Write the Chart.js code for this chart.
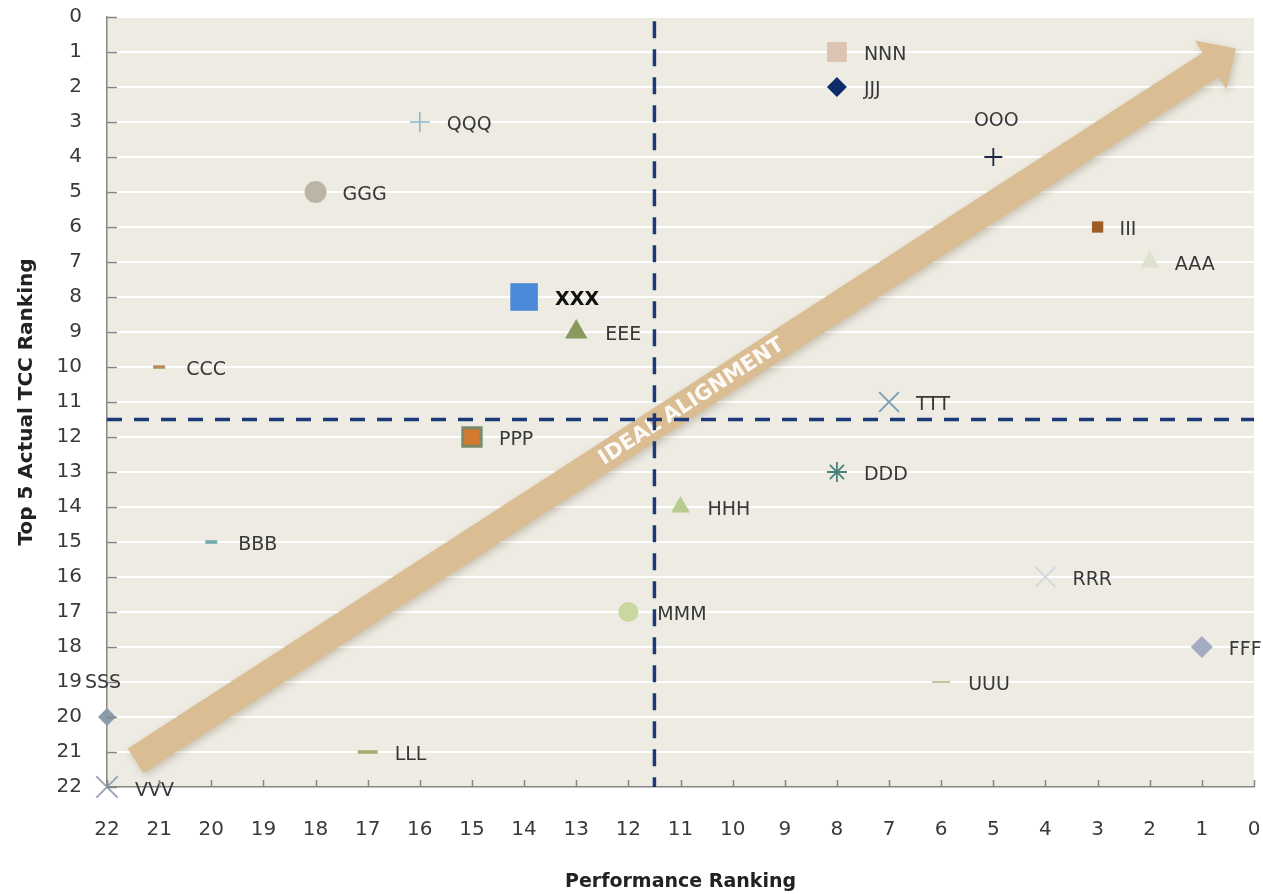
<!DOCTYPE html>
<html>
<head>
<meta charset="utf-8">
<title>Performance vs TCC Ranking</title>
<script src="https://cdn.jsdelivr.net/npm/chart.js@4.4.1/dist/chart.umd.min.js"></script>
<style>
  html, body { margin: 0; padding: 0; background: #fff; }
  #wrap { width: 1263px; height: 894px; position: relative; }
</style>
</head>
<body>
<div id="wrap"><canvas id="rank-chart"></canvas></div>
<script>
// ranking data
const companies = ['NNN', 'JJJ', 'QQQ', 'OOO', 'GGG', 'III', 'AAA', 'XXX', 'EEE', 'CCC', 'TTT',
                   'PPP', 'DDD', 'HHH', 'BBB', 'RRR', 'MMM', 'FFF', 'SSS', 'UUU', 'LLL', 'VVV'];
const performanceRank = [8, 8, 16, 5, 18, 3, 2, 14, 13, 21, 7, 15, 8, 11, 20, 4, 12, 1, 22, 6, 17, 22];
const tccRank = [1, 2, 3, 4, 5, 6, 7, 8, 9, 10, 11, 12, 13, 14, 15, 16, 17, 18, 20, 19, 21, 22];
const rankTicks = [0, 1, 2, 3, 4, 5, 6, 7, 8, 9, 10, 11, 12, 13, 14, 15, 16, 17, 18, 19, 20, 21, 22];
const quadrantCut = 11.5;
// ideal alignment arrow, tail -> tip in ranking units
const idealFrom = [21.45, 21.25];
const idealTo = [0.35, 0.9];

const FONT = "'DejaVu Sans', Verdana, sans-serif";

// marker look for each company
const markerStyle = {
  NNN: { shape: 'rect', r: 14, fill: '#dcc3b3' },
  JJJ: { shape: 'rectRot', r: 10, fill: '#0e2d68' },
  QQQ: { shape: 'cross', r: 10, line: '#8cb3c6', w: 1.5 },
  OOO: { shape: 'cross', r: 9, line: '#1b2845', w: 1.8, label: { dx: 3, dy: -36, align: 'center' } },
  GGG: { shape: 'circle', r: 11, fill: '#bcb4a4' },
  III: { shape: 'rect', r: 8, fill: '#9c5e24', label: { dx: 22 } },
  AAA: { shape: 'triangle', r: 11, fill: '#dde2cf', label: { dx: 25 } },
  XXX: { shape: 'rect', r: 19.5, fill: '#4a8ad8', label: { dx: 31, bold: true, color: '#111' } },
  EEE: { shape: 'triangle', r: 13, fill: '#8a9a5e', label: { dx: 29 } },
  CCC: { shape: 'line', r: 6, line: '#b48a5e', w: 3.5 },
  TTT: { shape: 'crossRot', r: 14, line: '#7f9fb4', w: 2 },
  PPP: { shape: 'rect', r: 13, fill: '#d27a30', line: '#7c8a6c', w: 3 },
  DDD: { shape: 'star', r: 10, line: '#4a8080', w: 1.8 },
  HHH: { shape: 'triangle', r: 11, fill: '#b8cc90' },
  BBB: { shape: 'line', r: 6, line: '#70a8b0', w: 3.5 },
  RRR: { shape: 'crossRot', r: 14, line: '#d2d7e0', w: 2 },
  MMM: { shape: 'circle', r: 10, fill: '#c8d8a0', label: { dx: 29 } },
  FFF: { shape: 'rectRot', r: 11, fill: '#a4acc4' },
  SSS: { shape: 'rectRot', r: 9, fill: '#8a9caa', label: { dx: -4, dy: -34, align: 'center' } },
  UUU: { shape: 'line', r: 9, line: '#c4c4a2', w: 2 },
  LLL: { shape: 'line', r: 10, line: '#a4ac74', w: 3.5 },
  VVV: { shape: 'crossRot', r: 15, line: '#9aa4b4', w: 2, label: { dx: 28, dy: 4 } }
};

const pointSets = companies.map((name, i) => {
  const s = markerStyle[name];
  return {
    label: name,
    data: [{ x: performanceRank[i], y: tccRank[i] }],
    pointStyle: s.shape,
    pointRadius: s.r,
    backgroundColor: s.fill || s.line,
    borderColor: s.line || s.fill,
    borderWidth: s.w || 0,
    clip: false,
    order: 0
  };
});

const dashColor = '#1c3a7a';
const cutSets = [
  {
    type: 'line',
    label: 'perf cut',
    data: [{ x: quadrantCut, y: 0.12 }, { x: quadrantCut, y: 22 }],
    borderColor: dashColor,
    borderWidth: 3.5,
    borderDash: [17, 11],
    pointRadius: 0,
    order: 1
  },
  {
    type: 'line',
    label: 'tcc cut',
    data: [{ x: 22, y: quadrantCut }, { x: 0, y: quadrantCut }],
    borderColor: dashColor,
    borderWidth: 3.5,
    borderDash: [15, 12],
    pointRadius: 0,
    order: 1
  }
];

// plot background + inner tick marks
const plotFrame = {
  id: 'plotFrame',
  beforeDraw(chart) {
    const { ctx, chartArea: a } = chart;
    ctx.save();
    ctx.fillStyle = '#edebe2';
    ctx.fillRect(a.left, a.top, a.right - a.left, a.bottom - a.top);
    ctx.restore();
  },
  afterDraw(chart) {
    const { ctx, chartArea: a, scales } = chart;
    ctx.save();
    ctx.strokeStyle = '#868686';
    ctx.lineWidth = 1.5;
    ctx.beginPath();
    rankTicks.forEach(v => {
      const py = Math.round(scales.y.getPixelForValue(v)) + 0.5;
      ctx.moveTo(a.left, py);
      ctx.lineTo(a.left + 10, py);
      const px = Math.round(scales.x.getPixelForValue(v)) + 0.5;
      ctx.moveTo(px, a.bottom);
      ctx.lineTo(px, a.bottom - 7);
    });
    ctx.stroke();
    ctx.restore();
  }
};

// block arrow with caption along it
const idealArrow = {
  id: 'idealArrow',
  beforeDatasetsDraw(chart) {
    const { ctx, scales } = chart;
    const x0 = scales.x.getPixelForValue(idealFrom[0]), y0 = scales.y.getPixelForValue(idealFrom[1]);
    const x1 = scales.x.getPixelForValue(idealTo[0]), y1 = scales.y.getPixelForValue(idealTo[1]);
    const len = Math.hypot(x1 - x0, y1 - y0);
    const ux = (x1 - x0) / len, uy = (y1 - y0) / len;
    const nx = -uy, ny = ux;
    const shaft = 14.5, head = 29, headLen = 30;
    const bx = x1 - ux * headLen, by = y1 - uy * headLen;

    ctx.save();
    ctx.shadowColor = 'rgba(90, 70, 40, 0.25)';
    ctx.shadowBlur = 7;
    ctx.shadowOffsetX = 2;
    ctx.shadowOffsetY = 3;
    ctx.fillStyle = '#dbbd93';
    ctx.beginPath();
    ctx.moveTo(x0 - nx * shaft, y0 - ny * shaft);
    ctx.lineTo(bx - nx * shaft, by - ny * shaft);
    ctx.lineTo(bx - nx * head, by - ny * head);
    ctx.lineTo(x1, y1);
    ctx.lineTo(bx + nx * head, by + ny * head);
    ctx.lineTo(bx + nx * shaft, by + ny * shaft);
    ctx.lineTo(x0 + nx * shaft, y0 + ny * shaft);
    ctx.closePath();
    ctx.fill();
    ctx.restore();

    const mx = x0 + ux * len * 0.505, my = y0 + uy * len * 0.505;
    ctx.save();
    ctx.translate(mx, my);
    ctx.rotate(Math.atan2(uy, ux));
    ctx.font = 'bold 21px ' + FONT;
    ctx.fillStyle = 'rgba(255, 255, 255, 0.92)';
    ctx.textAlign = 'center';
    ctx.textBaseline = 'middle';
    ctx.fillText('IDEAL ALIGNMENT', 0, 1);
    ctx.restore();
  }
};

// company names next to markers
const nameLabels = {
  id: 'nameLabels',
  afterDatasetsDraw(chart) {
    const { ctx, scales } = chart;
    ctx.save();
    ctx.textBaseline = 'middle';
    companies.forEach((name, i) => {
      const lab = markerStyle[name].label || {};
      const px = scales.x.getPixelForValue(performanceRank[i]);
      const py = scales.y.getPixelForValue(tccRank[i]);
      ctx.font = (lab.bold ? 'bold ' : '') + '19px ' + FONT;
      ctx.fillStyle = lab.color || '#383838';
      ctx.textAlign = lab.align || 'left';
      ctx.fillText(name, px + (lab.dx !== undefined ? lab.dx : 27), py + (lab.dy !== undefined ? lab.dy : 3));
    });
    ctx.restore();
  }
};

// fixed axis sizes, no extra label overhang padding
function fixSize(prop, size) {
  return scale => {
    scale[prop] = size;
    scale.paddingTop = 0;
    scale.paddingBottom = 0;
    scale.paddingLeft = 0;
    scale.paddingRight = 0;
  };
}

new Chart(document.getElementById('rank-chart'), {
  type: 'scatter',
  data: { datasets: pointSets.concat(cutSets) },
  options: {
    responsive: true,
    maintainAspectRatio: false,
    animation: false,
    layout: { autoPadding: false, padding: { top: 17, right: 9, left: 0, bottom: 0 } },
    plugins: {
      legend: { display: false },
      tooltip: { enabled: false }
    },
    scales: {
      x: {
        type: 'linear',
        reverse: true,
        min: 0,
        max: 22,
        afterFit: fixSize('height', 107),
        afterBuildTicks(scale) { scale.ticks = rankTicks.map(v => ({ value: v })); },
        grid: { display: false, drawTicks: false },
        border: { display: true, color: '#868686', width: 1.5 },
        ticks: {
          padding: 31,
          maxRotation: 0,
          autoSkip: false,
          color: '#3a3a3a',
          font: { family: FONT, size: 20 }
        },
        title: {
          display: true,
          text: 'Performance Ranking',
          color: '#222',
          padding: { top: 0, bottom: 1 },
          font: { family: FONT, size: 19, weight: 'bold' }
        }
      },
      y: {
        type: 'linear',
        reverse: true,
        min: 0,
        max: 22,
        afterFit: fixSize('width', 107),
        afterBuildTicks(scale) { scale.ticks = rankTicks.map(v => ({ value: v })); },
        grid: { color: '#ffffff', lineWidth: 2, drawTicks: false },
        border: { display: true, color: '#868686', width: 1.5 },
        ticks: {
          padding: 25,
          autoSkip: false,
          color: '#3a3a3a',
          font: { family: FONT, size: 20 }
        },
        title: {
          display: true,
          text: 'Top 5 Actual TCC Ranking',
          color: '#222',
          padding: { top: 15, bottom: 0 },
          font: { family: FONT, size: 20, weight: 'bold' }
        }
      }
    }
  },
  plugins: [plotFrame, idealArrow, nameLabels]
});
</script>
</body>
</html>
